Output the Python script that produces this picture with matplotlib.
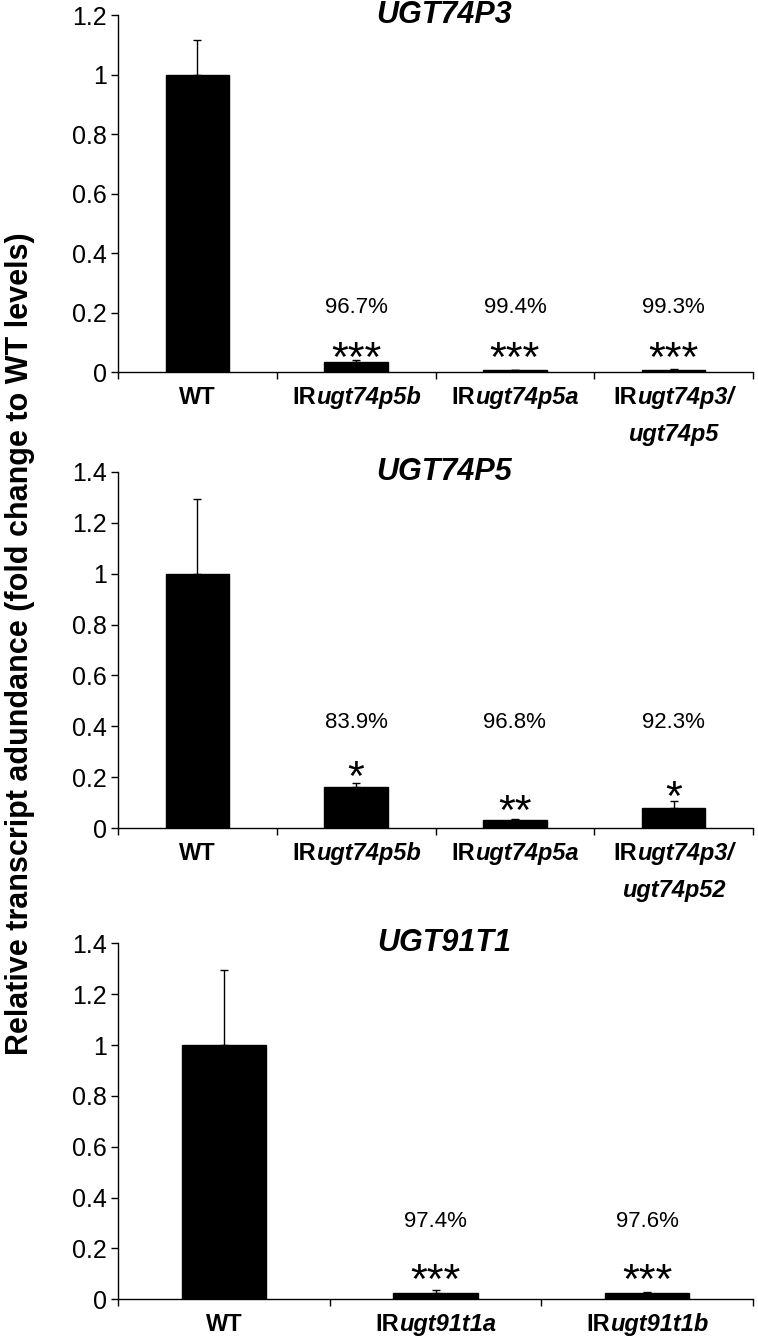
import matplotlib.pyplot as plt
from matplotlib.ticker import FuncFormatter, MultipleLocator
from matplotlib.offsetbox import TextArea, HPacker, VPacker, AnnotationBbox

plt.rcParams['font.family'] = ['Liberation Sans', 'DejaVu Sans']

# UGT74P3 panel
p3_labels = ['WT', 'IRugt74p5b', 'IRugt74p5a', 'IRugt74p3/\nugt74p5']
p3_values = [1.0, 0.033, 0.006, 0.007]
p3_errors = [0.115, 0.008, 0.002, 0.002]
p3_reduction = ['', '96.7%', '99.4%', '99.3%']
p3_stars = ['', '***', '***', '***']

# UGT74P5 panel
p5_labels = ['WT', 'IRugt74p5b', 'IRugt74p5a', 'IRugt74p3/\nugt74p52']
p5_values = [1.0, 0.161, 0.032, 0.077]
p5_errors = [0.294, 0.015, 0.004, 0.029]
p5_reduction = ['', '83.9%', '96.8%', '92.3%']
p5_stars = ['', '*', '**', '*']

# UGT91T1 panel
t1_labels = ['WT', 'IRugt91t1a', 'IRugt91t1b']
t1_values = [1.0, 0.026, 0.024]
t1_errors = [0.295, 0.011, 0.003]
t1_reduction = ['', '97.4%', '97.6%']
t1_stars = ['', '***', '***']

fig = plt.figure(figsize=(7.58, 13.42), dpi=100)

LABEL_FS = 17


def label_line(line):
    # "IR" and "WT" upright bold, gene names bold italic
    upright = dict(fontsize=LABEL_FS, fontweight='bold')
    italic = dict(fontsize=LABEL_FS, fontweight='bold', fontstyle='italic')
    if line == 'WT':
        parts = [TextArea('WT', textprops=upright)]
    elif line.startswith('IR'):
        parts = [TextArea('IR', textprops=upright), TextArea(line[2:], textprops=italic)]
    else:
        parts = [TextArea(line, textprops=italic)]
    return HPacker(children=parts, pad=0, sep=0, align='baseline')


def panel(rect, title, labels, values, errors, reduction, stars,
          ymax, pct_y, star_y):
    ax = fig.add_axes(rect)
    x = list(range(len(values)))
    ax.bar(x, values, width=0.4, color='black', edgecolor='black')
    ax.errorbar(x, values, yerr=[[0] * len(values), errors], fmt='none',
                ecolor='black', elinewidth=1, capsize=3, capthick=1)
    for i in x:
        if reduction[i]:
            ax.text(i, pct_y, reduction[i], ha='center', va='center', fontsize=16)
        if stars[i]:
            ax.annotate(stars[i], (i, star_y[i]), xytext=(0, -17),
                        textcoords='offset points', ha='center',
                        va='baseline', fontsize=31)
        lines = [label_line(s) for s in labels[i].split('\n')]
        box = VPacker(children=lines, pad=0, sep=10, align='center')
        ab = AnnotationBbox(box, (i, 0), xycoords=('data', 'axes fraction'),
                            xybox=(0, -10), boxcoords='offset points',
                            box_alignment=(0.5, 1), frameon=False)
        ax.add_artist(ab)
    ax.set_xlim(-0.5, len(values) - 0.5)
    ax.set_ylim(0, ymax)
    ax.yaxis.set_major_locator(MultipleLocator(0.2))
    ax.yaxis.set_major_formatter(FuncFormatter(lambda v, p: f'{v:g}'))
    ax.set_xticks(x)
    ax.set_xticklabels([])
    ax.set_xticks([i - 0.5 for i in range(len(values) + 1)], minor=True)
    ax.tick_params(axis='x', which='major', length=0)
    ax.tick_params(axis='x', which='minor', length=5, width=1, direction='out')
    ax.tick_params(axis='y', length=5, width=1, direction='out', labelsize=18, pad=3)
    for s in ['top', 'right']:
        ax.spines[s].set_visible(False)
    for s in ['left', 'bottom']:
        ax.spines[s].set_linewidth(1)
    ax.text(0.513, 1.0, title, transform=ax.transAxes, ha='center', va='center',
            fontsize=22, fontweight='bold', fontstyle='italic')
    return ax


panel([0.1557, 0.7228, 0.8377, 0.2660], 'UGT74P3', p3_labels, p3_values,
      p3_errors, p3_reduction, p3_stars, 1.2, 0.218, [0, 0.084, 0.084, 0.084])
panel([0.1557, 0.3830, 0.8377, 0.2653], 'UGT74P5', p5_labels, p5_values,
      p5_errors, p5_reduction, p5_stars, 1.4, 0.413, [0, 0.241, 0.110, 0.163])
panel([0.1557, 0.0318, 0.8377, 0.2653], 'UGT91T1', t1_labels, t1_values,
      t1_errors, t1_reduction, t1_stars, 1.4, 0.305, [0, 0.118, 0.118])

fig.text(0.027, 0.52, 'Relative transcript adundance (fold change to WT levels)',
         rotation=90, ha='center', va='center', fontsize=22, fontweight='bold')

fig.savefig('out.png', dpi=100)
